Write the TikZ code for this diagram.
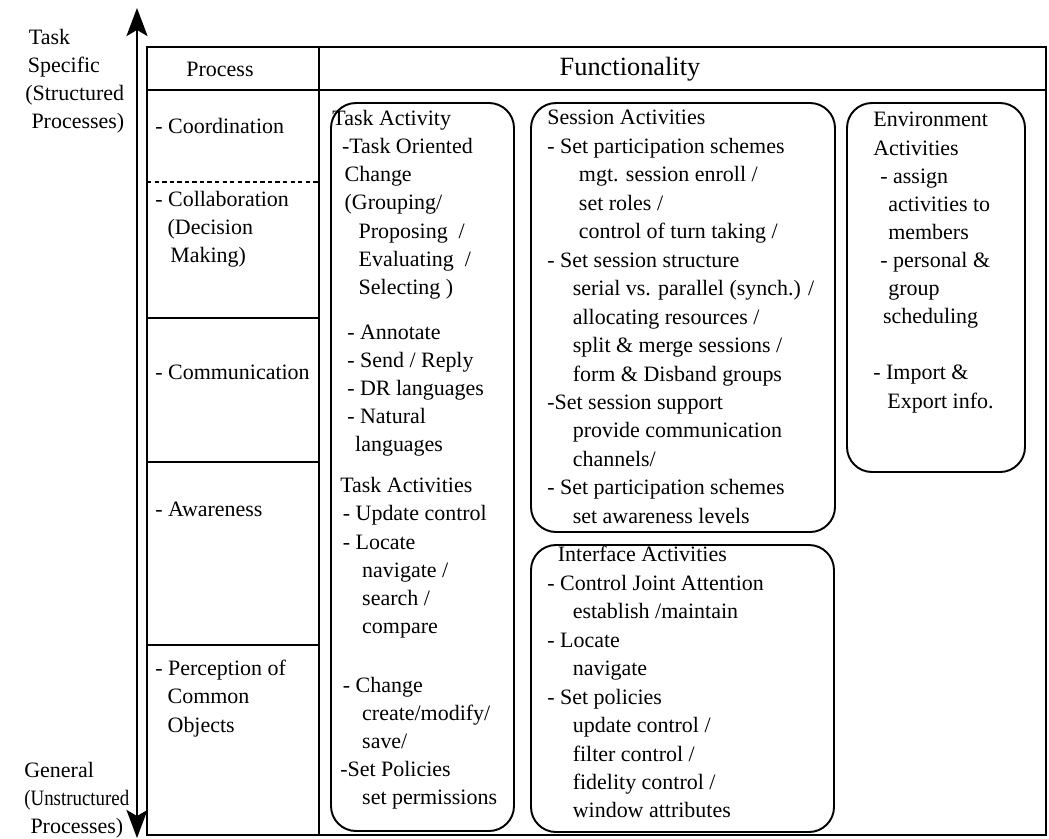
\documentclass[tikz,border=0pt]{standalone}
\usepackage{fontspec}
\setmainfont{Liberation Serif}
\usetikzlibrary{arrows.meta}

\begin{document}
\begin{tikzpicture}[x=0.02cm,y=-0.02cm,
    tabline/.style={line width=1.1pt},
    actbox/.style={line width=1.1pt,rounded corners=0.5cm},
    txt/.style={anchor=north west,inner sep=0pt,align=left,
      font=\fontsize{12.5}{16}\selectfont},
    widetxt/.style={txt,font=\fontsize{12.5}{16.2}\selectfont},
    >={Stealth[length=16pt,width=12pt,inset=3.5pt]},
  ]
  \useasboundingbox (0,0) rectangle (1049,839);

  \coordinate (axtop) at (137,8);
  \coordinate (axbot) at (137,838);
  \draw[line width=1.1pt,<->] (axbot) -- (axtop);

  \node[txt] (specific) at (25,29) {\hspace*{2pt}Task\\\hspace*{1.5pt}Specific\\(Structured\\\hspace*{3.5pt}Processes)};
  \node[txt] (general) at (24,762) {General\\\scalebox{0.86}[1]{(Unstructured}\\\hspace*{3.5pt}Processes)};

  \draw[tabline] (147,47) rectangle (1046,835);
  \draw[tabline] (147,90) -- (1046,90);
  \draw[tabline] (319,47) -- (319,835);
  \draw[tabline] (147,318) -- (319,318);
  \draw[tabline] (147,462) -- (319,462);
  \draw[tabline] (147,645) -- (319,645);
  \draw[line width=1.1pt,dash pattern=on 2.5pt off 1.8pt] (147,182) -- (319,182);

  \node[inner sep=0pt,font=\fontsize{12.5}{16}\selectfont] (process) at (220,69) {Process};
  \node[inner sep=0pt,font=\fontsize{15}{18}\selectfont] (functionality) at (630,69) {Functionality};

  \node[txt] (coord) at (155,118) {- Coordination};
  \node[txt] (collab) at (155,191) {- Collaboration\\\hspace*{7pt}(Decision\\\hspace*{8.5pt}Making)};
  \node[txt] (comm) at (155,365) {- Communication};
  \node[txt] (aware) at (155,502) {- Awareness};
  \node[txt] (percep) at (155,660) {- Perception of\\\hspace*{7pt}Common\\\hspace*{7pt}Objects};

  \draw[actbox] (331,103) rectangle (514,831);
  \draw[actbox] (531,103) rectangle (835,532);
  \draw[actbox] (531,545) rectangle (834,832);
  \draw[actbox] (847,103) rectangle (1025,472);

  \node[txt] (taskact) at (332,110) {Task Activity\\
    \hspace*{5.5pt}-Task Oriented\\
    \hspace*{7pt}Change\\
    \hspace*{7pt}(Grouping/\\
    \hspace*{15pt}Proposing~~/\\
    \hspace*{15pt}Evaluating~~/\\
    \hspace*{15pt}Selecting )\\[9.6pt]
    \hspace*{8.5pt}- Annotate\\
    \hspace*{8.5pt}- Send / Reply\\
    \hspace*{8.5pt}- DR languages\\
    \hspace*{8.5pt}- Natural\\
    \hspace*{13pt}languages\\[7.4pt]
    \hspace*{4.5pt}Task Activities\\
    \hspace*{6pt}- Update control\\
    \hspace*{6pt}- Locate\\
    \hspace*{17pt}navigate /\\
    \hspace*{17pt}search /\\
    \hspace*{17pt}compare\\[17.6pt]
    \hspace*{6pt}- Change\\
    \hspace*{17pt}create/modify/\\
    \hspace*{17pt}save/\\
    \hspace*{4.5pt}-Set Policies\\
    \hspace*{17pt}set permissions};

  \node[widetxt] (session) at (547,110) {Session Activities\\
    - Set participation schemes\\
    \hspace*{18pt}mgt. session enroll /\\
    \hspace*{18pt}set roles /\\
    \hspace*{18pt}control of turn taking /\\
    - Set session structure\\
    \hspace*{14.5pt}serial vs. parallel (synch.) /\\
    \hspace*{14.5pt}allocating resources /\\
    \hspace*{14.5pt}split \& merge sessions /\\
    \hspace*{14.5pt}form \& Disband groups\\
    -Set session support\\
    \hspace*{14.5pt}provide communication\\
    \hspace*{14.5pt}channels/\\
    - Set participation schemes\\
    \hspace*{14.5pt}set awareness levels};

  \node[widetxt] (interface) at (547,546) {\hspace*{6pt}Interface Activities\\
    - Control Joint Attention\\
    \hspace*{14.5pt}establish /maintain\\
    - Locate\\
    \hspace*{14.5pt}navigate\\
    - Set policies\\
    \hspace*{14.5pt}update control /\\
    \hspace*{14.5pt}filter control /\\
    \hspace*{14.5pt}fidelity control /\\
    \hspace*{14.5pt}window attributes};

  \node[txt] (environ) at (873,112) {Environment\\
    Activities\\
    \hspace*{4pt}- assign\\
    \hspace*{8.5pt}activities to\\
    \hspace*{8.5pt}members\\
    \hspace*{4pt}- personal \&\\
    \hspace*{8.5pt}group\\
    \hspace*{5.5pt}scheduling\\[16pt]
    - Import \&\\
    \hspace*{8pt}Export info.};
\end{tikzpicture}
\end{document}
